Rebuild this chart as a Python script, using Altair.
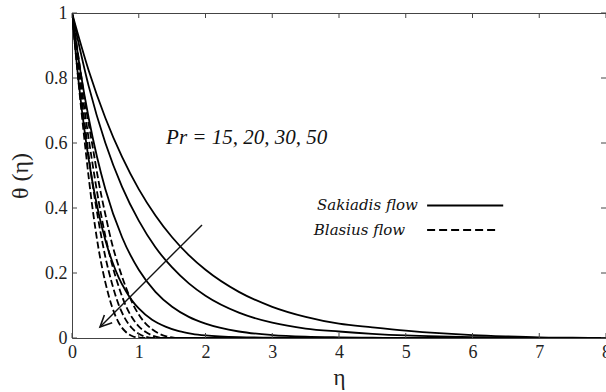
import altair as alt
import pandas as pd

# ---------------- data ----------------
pr_labels = ["15", "20", "30", "50"]

# Sakiadis flow (solid)
eta_s15 = [0, 0.25, 0.5, 0.75, 1, 1.25, 1.5, 1.75, 2, 2.5, 3, 3.5, 4, 4.5, 5, 5.5, 6, 6.5, 7, 7.5, 8]
theta_s15 = [1, 0.823, 0.677, 0.557, 0.458, 0.377, 0.310, 0.255, 0.210, 0.142, 0.096, 0.065,
             0.044, 0.033, 0.023, 0.015, 0.009, 0.005, 0.002, 0.001, 0]
eta_s20 = [0, 0.25, 0.5, 0.75, 1, 1.25, 1.5, 1.75, 2, 2.5, 3, 3.5, 4, 4.5, 5, 5.5, 6, 6.5, 7, 7.5, 8]
theta_s20 = [1, 0.775, 0.600, 0.465, 0.361, 0.279, 0.217, 0.168, 0.130, 0.078, 0.047, 0.029,
             0.020, 0.013, 0.008, 0.005, 0.003, 0.001, 0, 0, 0]
eta_s30 = [0, 0.125, 0.25, 0.375, 0.5, 0.75, 1, 1.25, 1.5, 1.75, 2, 2.5, 3, 3.5, 4, 4.5, 5, 6, 7, 8]
theta_s30 = [1, 0.823, 0.677, 0.557, 0.458, 0.310, 0.210, 0.142, 0.096, 0.065, 0.044, 0.020,
             0.009, 0.004, 0.002, 0.001, 0, 0, 0, 0]
eta_s50 = [0, 0.1, 0.2, 0.3, 0.4, 0.5, 0.6, 0.7, 0.8, 0.9, 1.0, 1.2, 1.4, 1.6, 1.8, 2.0, 2.5, 3, 3.5, 5, 8]
theta_s50 = [1, 0.787, 0.619, 0.487, 0.383, 0.301, 0.237, 0.186, 0.147, 0.115, 0.091, 0.056,
             0.035, 0.021, 0.013, 0.008, 0.0025, 0.001, 0, 0, 0]

# Blasius flow (dashed)
eta_b = [0, 0.1, 0.2, 0.3, 0.4, 0.5, 0.6, 0.7, 0.8, 0.9, 1.0, 1.1, 1.2, 1.3, 1.4, 1.5, 1.6,
         2, 3, 4, 5, 6, 7, 8]
theta_b15 = [1, 0.86, 0.72, 0.60, 0.48, 0.38, 0.29, 0.22, 0.16, 0.11, 0.072, 0.045, 0.027,
             0.014, 0.006, 0.002, 0, 0, 0, 0, 0, 0, 0, 0]
theta_b20 = [1, 0.839, 0.684, 0.546, 0.42, 0.313, 0.227, 0.158, 0.102, 0.063, 0.036, 0.019,
             0.008, 0.002, 0, 0, 0, 0, 0, 0, 0, 0, 0, 0]
theta_b30 = [1, 0.815, 0.644, 0.486, 0.357, 0.249, 0.167, 0.102, 0.058, 0.030, 0.013, 0.004,
             0, 0, 0, 0, 0, 0, 0, 0, 0, 0, 0, 0]
theta_b50 = [1, 0.782, 0.585, 0.411, 0.272, 0.171, 0.096, 0.047, 0.020, 0.006, 0.001, 0,
             0, 0, 0, 0, 0, 0, 0, 0, 0, 0, 0, 0]

x_ticks = [0, 1, 2, 3, 4, 5, 6, 7, 8]
y_ticks = [0, 0.2, 0.4, 0.6, 0.8, 1]

# annotations (data coordinates)
pr_text = "Pr = 15, 20, 30, 50"
pr_pos = (1.41, 0.615)
arrow_line = {"eta": [1.948, 0.42], "theta": [0.348, 0.034]}
arrow_head = {"eta": [0.485, 0.42, 0.602], "theta": [0.071, 0.034, 0.047]}
leg_sak = ("Sakiadis flow", 5.18, 0.408, 5.32, 6.46)
leg_bla = ("Blasius flow", 4.99, 0.332, 5.32, 6.38)

# ---------------- build tables ----------------
rows = []
for lab, e, t in zip(pr_labels, [eta_s15, eta_s20, eta_s30, eta_s50],
                     [theta_s15, theta_s20, theta_s30, theta_s50]):
    for a, b in zip(e, t):
        rows.append({"eta": a, "theta": b, "series": "S" + lab})
sak = pd.DataFrame(rows)
rows = []
for lab, t in zip(pr_labels, [theta_b15, theta_b20, theta_b30, theta_b50]):
    for a, b in zip(eta_b, t):
        rows.append({"eta": a, "theta": b, "series": "B" + lab})
bla = pd.DataFrame(rows)

W, H = 534, 325
SERIF = "'Liberation Serif', 'Times New Roman', Times, 'DejaVu Serif', serif"
xscale = alt.Scale(domain=[0, 8], nice=False, zero=False)
yscale = alt.Scale(domain=[0, 1], nice=False)

xaxis = alt.Axis(values=x_ticks, tickSize=0, domain=False, grid=False,
                 labelFont=SERIF, labelFontSize=18, labelPadding=5,
                 labelColor="#222", title="η", titleFont=SERIF,
                 titleFontSize=23, titleFontWeight="normal",
                 titlePadding=5, titleColor="#222", labelFlush=False)
yaxis = alt.Axis(values=y_ticks, format="~g", tickSize=0, domain=False,
                 grid=False, labelFont=SERIF, labelFontSize=18,
                 labelPadding=5, labelColor="#222", title="θ (η)",
                 titleFont=SERIF, titleFontSize=24,
                 titleFontWeight="normal", titlePadding=12,
                 titleColor="#222")


def X(field):
    return alt.X(field, scale=xscale, axis=xaxis)


def Y(field):
    return alt.Y(field, scale=yscale, axis=yaxis)


def XD(v):
    return alt.XDatum(v, type="quantitative", scale=xscale, axis=xaxis)


def YD(v):
    return alt.YDatum(v, type="quantitative", scale=yscale, axis=yaxis)


solid = alt.Chart(sak).mark_line(color="black", strokeWidth=1.8, interpolate="monotone",
                                 clip=True).encode(x=X("eta:Q"), y=Y("theta:Q"),
                                                   detail="series:N")
dashed = alt.Chart(bla).mark_line(color="black", strokeWidth=1.8, strokeDash=[7, 3],
                                  interpolate="monotone", clip=True).encode(
    x=X("eta:Q"), y=Y("theta:Q"), detail="series:N")

xt = pd.DataFrame({"eta": x_ticks})
yt = pd.DataFrame({"theta": y_ticks})
tick_style = dict(color="#444", strokeWidth=1)
ticks_bottom = alt.Chart(xt).mark_rule(**tick_style).encode(
    x=X("eta:Q"), y=alt.value(H), y2=alt.value(H - 5))
ticks_top = alt.Chart(xt).mark_rule(**tick_style).encode(
    x=X("eta:Q"), y=alt.value(0), y2=alt.value(5))
ticks_left = alt.Chart(yt).mark_rule(**tick_style).encode(
    y=Y("theta:Q"), x=alt.value(0), x2=alt.value(5))
ticks_right = alt.Chart(yt).mark_rule(**tick_style).encode(
    y=Y("theta:Q"), x=alt.value(W), x2=alt.value(W - 5))

one = pd.DataFrame({"a": [0]})
pr_ann = alt.Chart(one).mark_text(text=pr_text, font=SERIF, fontStyle="italic",
                                  fontSize=21, align="left", baseline="middle",
                                  color="#111").encode(x=XD(pr_pos[0]), y=YD(pr_pos[1]))

arr1 = alt.Chart(pd.DataFrame(arrow_line)).mark_line(color="#111", strokeWidth=1.4).encode(
    x=X("eta:Q"), y=Y("theta:Q"))
ah = pd.DataFrame(arrow_head)
ah["o"] = range(len(ah))
arr2 = alt.Chart(ah).mark_line(color="#111", strokeWidth=1.6).encode(
    x=X("eta:Q"), y=Y("theta:Q"), order="o:Q")

legend_layers = []
for (txt, tx, ty, lx1, lx2), dash in [(leg_sak, None), (leg_bla, [8, 4])]:
    legend_layers.append(
        alt.Chart(one).mark_text(text=txt, font="DejaVu Serif", fontStyle="italic",
                                 fontSize=15, align="right", baseline="middle",
                                 color="#111").encode(x=XD(tx), y=YD(ty)))
    rule_kw = dict(color="black", strokeWidth=2)
    if dash:
        rule_kw["strokeDash"] = dash
    legend_layers.append(
        alt.Chart(one).mark_rule(**rule_kw).encode(
            x=XD(lx1), x2=alt.X2Datum(lx2), y=YD(ty)))

chart = alt.layer(solid, dashed, ticks_bottom, ticks_top, ticks_left, ticks_right,
                  pr_ann, arr1, arr2, *legend_layers).properties(
    width=W, height=H,
    autosize=alt.AutoSizeParams(type="none"),
    padding={"left": 72, "top": 13, "right": 0, "bottom": 54},
    background="white",
).configure_view(stroke="#444", strokeWidth=1)

chart.save("out.html", embed_options={"renderer": "svg", "actions": False})
